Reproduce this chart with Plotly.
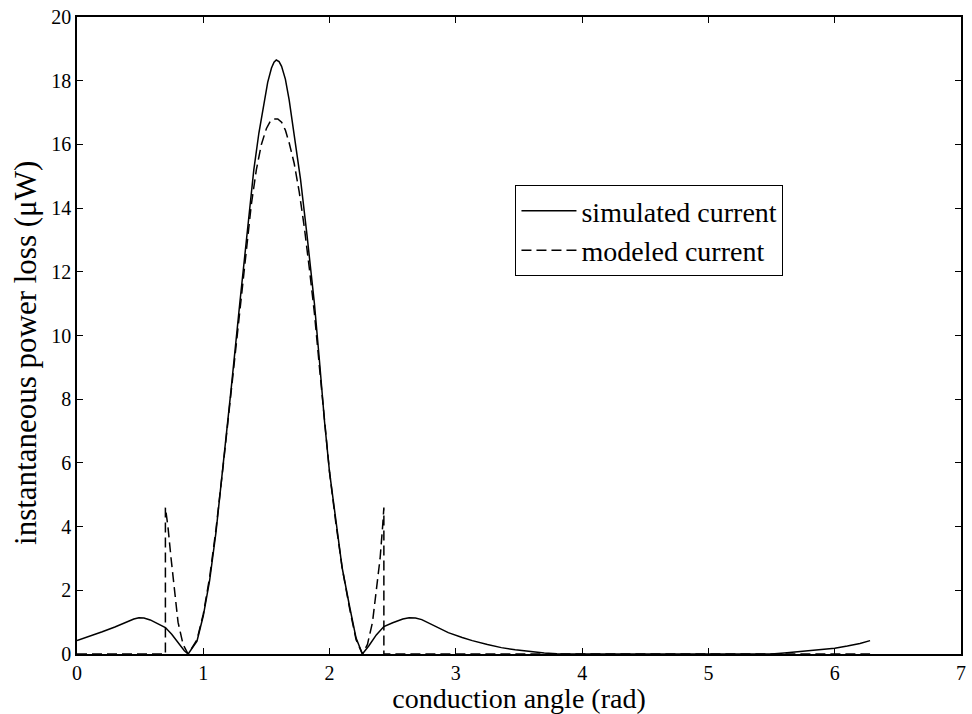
import plotly.graph_objects as go

# simulated current (solid)
sim_x = [0.00, 0.10, 0.20, 0.30, 0.40, 0.45, 0.49, 0.53, 0.58, 0.64, 0.70, 0.75, 0.80, 0.85, 0.88,
         0.95, 1.00, 1.05, 1.10, 1.16, 1.22, 1.29, 1.35, 1.40, 1.44, 1.48, 1.51, 1.54, 1.56, 1.578,
         1.60, 1.62, 1.65, 1.68, 1.72, 1.77, 1.82, 1.88, 1.92, 1.96, 2.00, 2.05, 2.10, 2.16, 2.21,
         2.26, 2.31, 2.37, 2.43, 2.50, 2.58, 2.63, 2.68, 2.73, 2.80, 2.87, 2.94, 3.05, 3.13, 3.25,
         3.36, 3.47, 3.57, 3.70, 3.80, 4.00, 4.50, 5.00, 5.50, 5.60, 5.75, 5.90, 6.00,
         6.10, 6.20, 6.28]
sim_y = [0.42, 0.55, 0.70, 0.85, 1.02, 1.10, 1.14, 1.13, 1.07, 0.95, 0.83, 0.62, 0.35, 0.10, 0.00,
         0.40, 1.20, 2.30, 3.80, 6.00, 8.30, 11.05, 13.30, 15.20, 16.35, 17.30, 17.95, 18.40, 18.58, 18.65,
         18.60, 18.45, 18.05, 17.40, 16.35, 14.90, 13.20, 11.00, 9.20, 7.30, 5.70, 4.17, 2.70, 1.46, 0.50,
         0.00, 0.25, 0.60, 0.86, 0.98, 1.10, 1.14, 1.13, 1.08, 0.95, 0.80, 0.67, 0.52, 0.42, 0.30,
         0.20, 0.13, 0.08, 0.03, 0.01, 0.00, 0.00, 0.00, 0.00, 0.03, 0.08, 0.14, 0.18,
         0.25, 0.33, 0.42]

# modeled current (dashed)
mod_x = [0.00, 0.70, 0.70, 0.72, 0.745, 0.77, 0.80, 0.84, 0.88,
         0.95, 1.00, 1.05, 1.10, 1.16, 1.22, 1.29, 1.34, 1.38, 1.42, 1.46, 1.50, 1.53, 1.56, 1.59,
         1.62, 1.65, 1.68, 1.72, 1.76, 1.80, 1.84, 1.88, 1.92, 1.96, 2.00, 2.05, 2.10, 2.16, 2.21,
         2.26, 2.30, 2.34, 2.37, 2.40, 2.42, 2.43, 2.43, 6.28]
mod_y = [0.00, 0.00, 4.60, 4.00, 3.00, 2.00, 1.00, 0.30, 0.00,
         0.45, 1.25, 2.40, 3.90, 6.00, 8.20, 10.80, 12.60, 14.10, 15.20, 16.00, 16.50, 16.72, 16.80, 16.80,
         16.70, 16.45, 16.05, 15.40, 14.50, 13.40, 12.10, 10.70, 9.00, 7.30, 5.70, 4.10, 2.70, 1.40, 0.45,
         0.00, 0.30, 1.00, 2.00, 3.00, 4.00, 4.60, 0.00, 0.00]

x_ticks = [0, 1, 2, 3, 4, 5, 6, 7]
y_ticks = [0, 2, 4, 6, 8, 10, 12, 14, 16, 18, 20]

FONT = "Liberation Serif"

fig = go.Figure()
fig.add_trace(go.Scatter(x=sim_x, y=sim_y, mode="lines", name="simulated current",
                         line=dict(color="black", width=1.5), legendgroup="a"))
fig.add_trace(go.Scatter(x=mod_x, y=mod_y, mode="lines", name="modeled current",
                         line=dict(color="black", width=1.5, dash="10px,5px"), legendgroup="b"))

axis_common = dict(showline=True, linecolor="black", linewidth=1.5, mirror="ticks",
                   ticks="inside", ticklen=6, tickcolor="black", tickwidth=1.2,
                   showgrid=False, zeroline=False,
                   tickfont=dict(family=FONT, size=20, color="black"))

fig.update_xaxes(range=[0, 7], tickvals=x_ticks, ticktext=[str(v) for v in x_ticks],
                 title=dict(text="conduction angle (rad)", font=dict(family=FONT, size=28, color="black"),
                            standoff=2),
                 **axis_common)
fig.update_yaxes(range=[0, 20], tickvals=y_ticks, ticktext=[str(v) for v in y_ticks],
                 **axis_common)

fig.add_annotation(text="instantaneous power loss (μW)", xref="paper", yref="paper",
                   x=-0.0585, y=0.473, xanchor="center", yanchor="middle", textangle=-90,
                   showarrow=False, font=dict(family=FONT, size=31, color="black"))

fig.update_layout(
    width=972, height=714,
    margin=dict(l=77, r=6, t=14, b=60),
    paper_bgcolor="white", plot_bgcolor="white",
    font=dict(family=FONT, color="black"),
    legend=dict(x=0.496, y=0.736, xanchor="left", yanchor="top",
                bordercolor="black", borderwidth=1, bgcolor="white",
                font=dict(family=FONT, size=28, color="black"),
                itemwidth=55, traceorder="grouped", tracegroupgap=0),
)

fig.write_html("out.html")
